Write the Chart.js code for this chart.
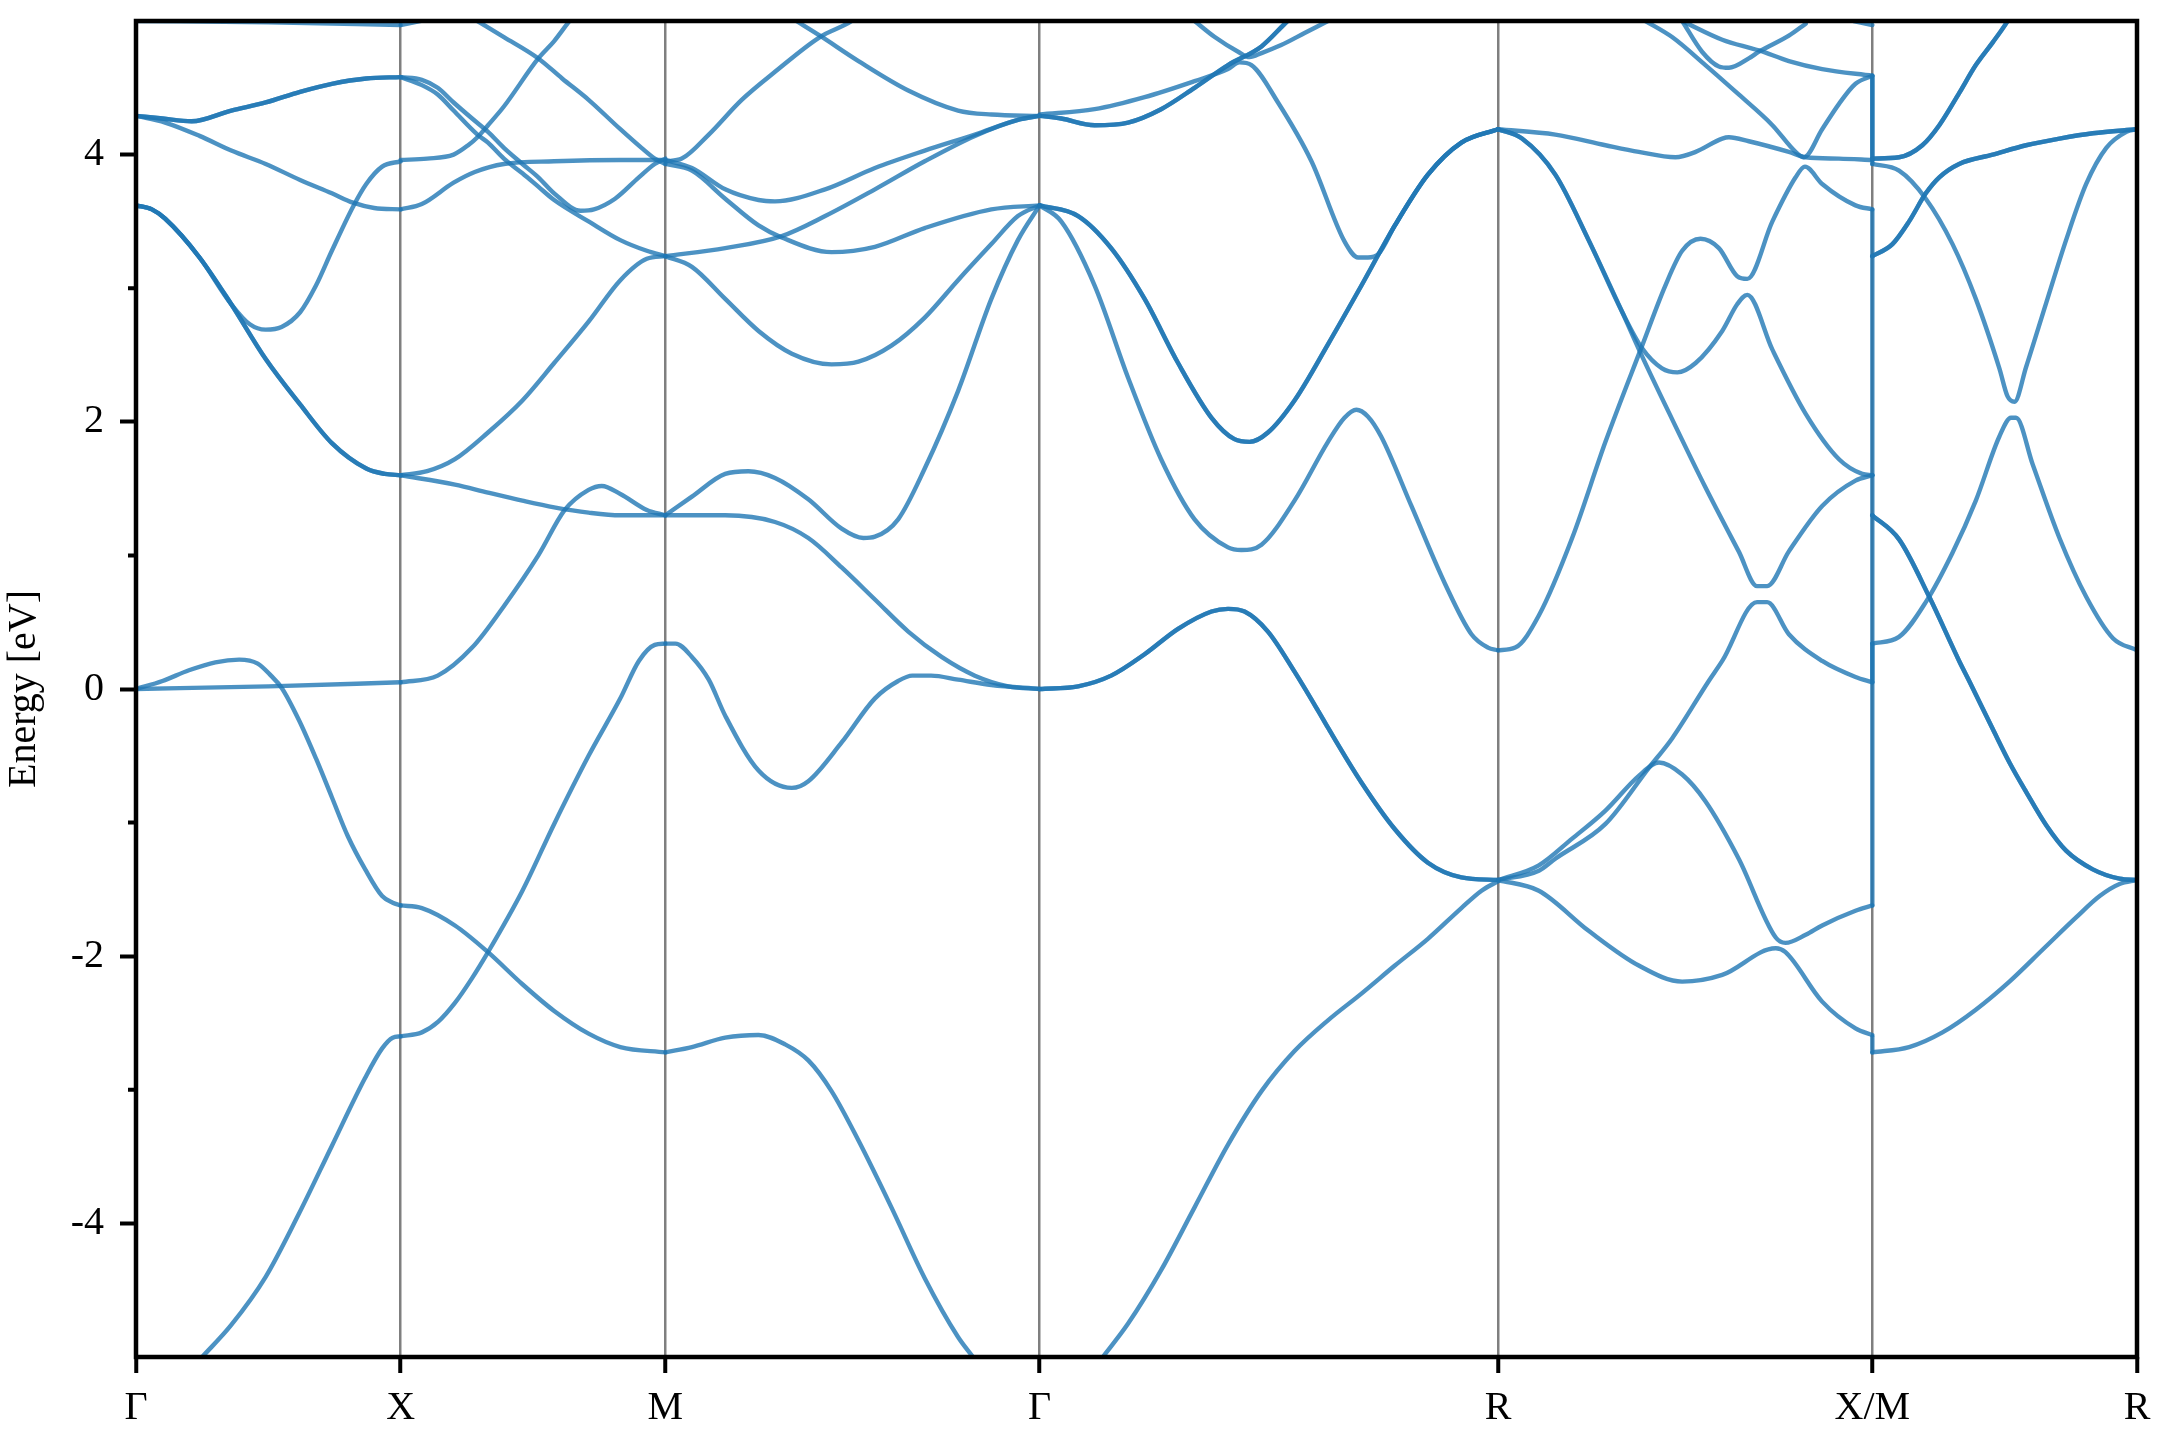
<!DOCTYPE html>
<html><head><meta charset="utf-8">
<script src="https://cdn.jsdelivr.net/npm/chart.js@4.4.1/dist/chart.umd.min.js"></script>
<style>html,body{margin:0;padding:0;background:#fff}canvas{display:block}</style>
</head><body>
<canvas id="c" width="2160" height="1440"></canvas>
<script>
// High-symmetry path (cubic lattice, k in units of 2π/a)
const kTicks = [0, 0.5, 1.0, 1.7071, 2.5731, 3.2802, 3.7802];
const kLabels = ['Γ', 'X', 'M', 'Γ', 'R', 'X/M', 'R'];
const yTicks = [-4, -2, 0, 2, 4];
const yMinor = [-3, -1, 1, 3];

// Band pieces: [fraction along segment, energy eV]
// Γ–X
const GX_top  = [[0,5.0],[0.5,4.99],[1,4.97]];
const GX_up   = [[0,4.29],[0.1,4.27],[0.21,4.25],[0.36,4.33],[0.49,4.39],[0.62,4.47],[0.74,4.53],[0.87,4.57],[1,4.58]];
const GX_dn   = [[0,4.29],[0.11,4.24],[0.24,4.14],[0.36,4.03],[0.49,3.93],[0.62,3.81],[0.74,3.71],[0.82,3.64],[0.9,3.60],[1,3.59]];
const GX_t2   = [[0,3.62],[0.06,3.59],[0.11,3.52],[0.24,3.23],[0.36,2.88],[0.49,2.47],[0.62,2.13],[0.74,1.84],[0.87,1.65],[0.94,1.61],[1,1.60]];
const GX_dip  = [[0,3.62],[0.06,3.59],[0.11,3.52],[0.24,3.23],[0.36,2.88],[0.43,2.73],[0.49,2.69],[0.55,2.71],[0.62,2.82],[0.68,3.02],[0.74,3.28],[0.82,3.61],[0.87,3.78],[0.93,3.91],[1,3.95]];
const GX_vb   = [[0,0],[0.1,0.06],[0.2,0.14],[0.3,0.20],[0.39,0.22],[0.46,0.19],[0.51,0.10],[0.55,0.01],[0.615,-0.23],[0.68,-0.52],[0.74,-0.81],[0.80,-1.10],[0.866,-1.35],[0.93,-1.55],[0.97,-1.60],[1,-1.62]];
const GX_flat = [[0,0],[0.5,0.02],[1,0.05]];
const GX_low  = [[0.25,-5.0],[0.36,-4.76],[0.49,-4.40],[0.615,-3.93],[0.74,-3.42],[0.866,-2.91],[0.93,-2.69],[0.97,-2.61],[1,-2.60]];
// X–M
const XM_top  = [[0,4.97],[0.1,5.01]];
const XM_fall = [[0.29,5.0],[0.39,4.88],[0.52,4.72],[0.61,4.57],[0.71,4.41],[0.83,4.19],[0.91,4.05],[0.96,3.97],[1,3.93]];
const XM_rise = [[0,3.96],[0.1,3.97],[0.2,4.0],[0.255,4.07],[0.29,4.13],[0.33,4.22],[0.39,4.36],[0.52,4.72],[0.58,4.85],[0.63,4.98],[0.65,5.03]];
const XM_loop = [[0,4.58],[0.08,4.56],[0.14,4.50],[0.2,4.39],[0.27,4.27],[0.33,4.17],[0.39,4.05],[0.46,3.93],[0.52,3.83],[0.58,3.71],[0.68,3.58],[0.73,3.59],[0.81,3.67],[0.9,3.83],[0.96,3.93],[1,3.97]];
const XM_m1   = [[0,4.58],[0.08,4.52],[0.14,4.45],[0.2,4.33],[0.29,4.15],[0.33,4.09],[0.39,3.97],[0.46,3.86],[0.52,3.76],[0.58,3.66],[0.71,3.50],[0.83,3.36],[0.93,3.28],[1,3.24]];
const XM_flat = [[0,3.59],[0.08,3.63],[0.2,3.79],[0.28,3.87],[0.39,3.93],[0.58,3.95],[0.83,3.96],[1,3.96]];
const XM_c1   = [[0,1.60],[0.1,1.63],[0.205,1.72],[0.33,1.92],[0.46,2.16],[0.58,2.44],[0.71,2.75],[0.83,3.06],[0.93,3.22],[1,3.24]];
const XM_c2   = [[0,1.60],[0.205,1.53],[0.33,1.47],[0.46,1.41],[0.58,1.36],[0.71,1.32],[0.83,1.30],[1,1.30]];
const XM_hump = [[0,0.05],[0.14,0.10],[0.27,0.31],[0.39,0.62],[0.52,1.0],[0.62,1.34],[0.71,1.49],[0.76,1.52],[0.83,1.46],[0.93,1.34],[1,1.30]];
const XM_v1   = [[0,-2.60],[0.08,-2.57],[0.142,-2.49],[0.205,-2.35],[0.268,-2.17],[0.33,-1.97],[0.46,-1.51],[0.58,-1.01],[0.71,-0.50],[0.83,-0.07],[0.9,0.21],[0.96,0.33],[1,0.34]];
const XM_v2   = [[0,-1.62],[0.08,-1.64],[0.205,-1.77],[0.33,-1.97],[0.46,-2.21],[0.58,-2.41],[0.71,-2.58],[0.83,-2.68],[1,-2.72]];
// M–Γ
const MG_in   = [[0.35,5.0],[0.413,4.89],[0.516,4.70],[0.649,4.48],[0.782,4.33],[0.871,4.30],[1,4.29]];
const MG_out  = [[0,3.95],[0.044,3.97],[0.116,4.15],[0.204,4.41],[0.293,4.62],[0.413,4.88],[0.498,5.0],[0.52,5.05]];
const MG_a    = [[0,3.96],[0.071,3.90],[0.16,3.74],[0.249,3.66],[0.293,3.65],[0.427,3.74],[0.56,3.90],[0.693,4.03],[0.827,4.15],[0.942,4.26],[1,4.29]];
const MG_b    = [[0,3.93],[0.071,3.88],[0.16,3.67],[0.249,3.47],[0.311,3.38],[0.444,3.27],[0.56,3.31],[0.693,3.45],[0.871,3.59],[1,3.62]];
const MG_c    = [[0,3.24],[0.16,3.30],[0.311,3.39],[0.427,3.54],[0.56,3.74],[0.693,3.95],[0.827,4.14],[0.942,4.26],[1,4.29]];
const MG_d    = [[0,3.24],[0.071,3.16],[0.16,2.92],[0.249,2.68],[0.338,2.51],[0.444,2.43],[0.516,2.45],[0.604,2.57],[0.693,2.78],[0.782,3.06],[0.871,3.33],[0.942,3.54],[1,3.62]];
const MG_e    = [[0,1.30],[0.071,1.44],[0.16,1.61],[0.222,1.63],[0.293,1.58],[0.382,1.42],[0.471,1.20],[0.529,1.13],[0.56,1.14],[0.622,1.27],[0.693,1.65],[0.782,2.23],[0.871,2.92],[0.942,3.36],[1,3.62]];
const MG_f    = [[0,1.30],[0.16,1.30],[0.293,1.25],[0.382,1.13],[0.471,0.91],[0.56,0.67],[0.649,0.43],[0.738,0.24],[0.827,0.10],[0.916,0.02],[1,0]];
const MG_g    = [[0,0.34],[0.027,0.34],[0.071,0.24],[0.116,0.07],[0.16,-0.2],[0.249,-0.61],[0.338,-0.74],[0.382,-0.69],[0.471,-0.40],[0.56,-0.07],[0.622,0.06],[0.66,0.10],[0.71,0.10],[0.782,0.07],[0.871,0.03],[1,0]];
const MG_h    = [[0,-2.72],[0.071,-2.68],[0.16,-2.61],[0.249,-2.59],[0.32,-2.66],[0.382,-2.78],[0.444,-3.01],[0.516,-3.38],[0.604,-3.88],[0.693,-4.41],[0.782,-4.85],[0.822,-5.0]];
// Γ–R
const GR_up2  = [[0,4.29],[0.047,4.27],[0.12,4.22],[0.193,4.24],[0.265,4.34],[0.338,4.50],[0.411,4.67],[0.484,4.81],[0.535,4.98],[0.55,5.03]];
const GR_kink = [[0,4.30],[0.12,4.34],[0.229,4.43],[0.338,4.55],[0.411,4.64],[0.436,4.69],[0.462,4.67],[0.52,4.39],[0.593,3.95],[0.665,3.35],[0.695,3.23],[0.716,3.23],[0.74,3.26],[0.775,3.47],[0.847,3.85],[0.92,4.09],[1,4.19]];
const GR_v    = [[0.338,5.0],[0.382,4.88],[0.433,4.77],[0.458,4.73],[0.484,4.76],[0.527,4.82],[0.578,4.91],[0.629,5.0]];
const GR_c2   = [[0,3.62],[0.084,3.54],[0.156,3.30],[0.229,2.92],[0.302,2.44],[0.375,2.03],[0.425,1.87],[0.458,1.85],[0.498,1.92],[0.556,2.16],[0.629,2.58],[0.702,3.02],[0.775,3.47],[0.847,3.85],[0.92,4.09],[1,4.19]];
const GR_d    = [[0,3.62],[0.047,3.50],[0.12,3.02],[0.193,2.33],[0.265,1.72],[0.338,1.27],[0.411,1.06],[0.44,1.04],[0.484,1.08],[0.556,1.41],[0.629,1.85],[0.665,2.03],[0.691,2.09],[0.716,2.04],[0.745,1.89],[0.811,1.37],[0.884,0.79],[0.942,0.41],[0.978,0.31],[1,0.29]];
const GR_v2   = [[0,0],[0.084,0.02],[0.156,0.10],[0.229,0.26],[0.302,0.45],[0.375,0.58],[0.411,0.60],[0.447,0.58],[0.498,0.43],[0.556,0.13],[0.607,-0.16],[0.629,-0.29],[0.702,-0.70],[0.775,-1.05],[0.847,-1.30],[0.92,-1.41],[1,-1.43]];
const GR_low  = [[0.138,-5.0],[0.193,-4.75],[0.265,-4.35],[0.338,-3.88],[0.411,-3.41],[0.484,-3.01],[0.556,-2.71],[0.629,-2.48],[0.702,-2.28],[0.775,-2.07],[0.847,-1.87],[0.92,-1.64],[0.964,-1.51],[1,-1.44]];
// R–X
const RX_a    = [[0,4.19],[0.153,4.15],[0.287,4.07],[0.376,4.02],[0.474,3.98],[0.528,4.02],[0.599,4.12],[0.617,4.13],[0.67,4.10],[0.777,4.02],[0.822,3.98],[0.911,3.97],[1,3.96]];
const RX_b    = [[0,4.19],[0.064,4.12],[0.153,3.85],[0.242,3.36],[0.332,2.82],[0.385,2.55],[0.438,2.40],[0.479,2.37],[0.528,2.44],[0.599,2.68],[0.639,2.88],[0.666,2.95],[0.733,2.54],[0.822,2.06],[0.911,1.72],[0.973,1.61],[1,1.60]];
const RX_c    = [[0,4.19],[0.064,4.12],[0.153,3.85],[0.242,3.36],[0.332,2.82],[0.385,2.49],[0.465,2.02],[0.554,1.51],[0.643,1.03],[0.692,0.77],[0.719,0.77],[0.777,1.03],[0.866,1.37],[0.955,1.56],[1,1.60]];
const RX_d    = [[0,0.29],[0.046,0.31],[0.109,0.55],[0.198,1.13],[0.287,1.85],[0.385,2.57],[0.447,3.02],[0.492,3.28],[0.541,3.37],[0.59,3.30],[0.639,3.09],[0.666,3.07],[0.733,3.50],[0.795,3.83],[0.82,3.91],[0.866,3.78],[0.955,3.62],[1,3.59]];
const RX_e    = [[0.394,5.0],[0.465,4.88],[0.554,4.67],[0.643,4.45],[0.733,4.22],[0.795,4.02],[0.817,3.98],[0.866,4.19],[0.911,4.38],[0.955,4.53],[1,4.59]];
const RX_f    = [[0.492,5.0],[0.545,4.77],[0.59,4.66],[0.617,4.65],[0.67,4.72],[0.697,4.77],[0.777,4.89],[0.822,4.98]];
const RX_g    = [[0.492,5.0],[0.599,4.86],[0.67,4.80],[0.697,4.78],[0.777,4.70],[0.866,4.64],[1,4.59]];
const RX_top  = [[0.95,5.0],[1,4.97]];
const RX_h    = [[0,-1.43],[0.109,-1.32],[0.198,-1.12],[0.287,-0.91],[0.376,-0.65],[0.43,-0.55],[0.492,-0.64],[0.554,-0.84],[0.643,-1.27],[0.742,-1.86],[0.768,-1.90],[0.822,-1.84],[0.866,-1.77],[0.955,-1.66],[1,-1.62]];
const RX_i    = [[0,-1.43],[0.109,-1.51],[0.242,-1.81],[0.376,-2.07],[0.492,-2.19],[0.599,-2.14],[0.742,-1.94],[0.768,-1.97],[0.866,-2.34],[0.955,-2.54],[1,-2.59]];
const RX_j    = [[0,-1.43],[0.109,-1.36],[0.153,-1.27],[0.287,-1.01],[0.403,-0.59],[0.465,-0.37],[0.563,0.06],[0.599,0.21],[0.692,0.65],[0.719,0.65],[0.777,0.41],[0.866,0.21],[0.955,0.09],[1,0.05]];
// M–R
const MR_a    = [[0,3.97],[0.101,3.98],[0.189,4.07],[0.253,4.22],[0.328,4.46],[0.391,4.67],[0.455,4.84],[0.505,4.98],[0.52,5.03]];
const MR_b    = [[0,3.24],[0.076,3.33],[0.139,3.50],[0.202,3.71],[0.253,3.83],[0.328,3.93],[0.455,4.00],[0.581,4.07],[0.707,4.12],[0.833,4.16],[1,4.19]];
const MR_c    = [[0,3.93],[0.101,3.88],[0.202,3.67],[0.303,3.33],[0.391,2.92],[0.48,2.40],[0.511,2.19],[0.537,2.15],[0.581,2.41],[0.657,2.89],[0.732,3.36],[0.808,3.78],[0.884,4.05],[0.96,4.17],[1,4.19]];
const MR_d    = [[0,0.34],[0.101,0.39],[0.202,0.65],[0.303,1.02],[0.391,1.41],[0.48,1.89],[0.524,2.03],[0.543,2.03],[0.606,1.68],[0.707,1.13],[0.808,0.69],[0.909,0.38],[1,0.29]];
const MR_e    = [[0,1.30],[0.101,1.12],[0.215,0.69],[0.328,0.21],[0.366,0.06],[0.455,-0.30],[0.518,-0.55],[0.581,-0.77],[0.657,-1.02],[0.732,-1.21],[0.833,-1.35],[0.934,-1.42],[1,-1.43]];
const MR_f    = [[0,-2.72],[0.139,-2.68],[0.265,-2.57],[0.391,-2.40],[0.518,-2.19],[0.644,-1.95],[0.77,-1.71],[0.859,-1.55],[0.934,-1.46],[1,-1.43]];
// band values joined across the X|M break: [E at X, E at M]
const XM_jump = [[-2.60,-2.72],[-1.62,0.34],[0.05,1.30],[1.60,1.30],[1.60,3.24],[3.59,3.24],[3.96,3.93],[4.58,3.96],[4.59,3.97]];

// [segment index, piece, degeneracy]
const pieces = [
  [0,GX_top,1],[0,GX_up,2],[0,GX_dn,1],[0,GX_t2,2],[0,GX_dip,1],[0,GX_vb,1],[0,GX_flat,1],[0,GX_low,1],
  [1,XM_top,1],[1,XM_fall,1],[1,XM_rise,1],[1,XM_loop,1],[1,XM_m1,1],[1,XM_flat,1],[1,XM_c1,1],[1,XM_c2,1],[1,XM_hump,1],[1,XM_v1,1],[1,XM_v2,1],
  [2,MG_in,1],[2,MG_out,1],[2,MG_a,1],[2,MG_b,1],[2,MG_c,1],[2,MG_d,1],[2,MG_e,1],[2,MG_f,1],[2,MG_g,1],[2,MG_h,1],
  [3,GR_up2,2],[3,GR_kink,1],[3,GR_v,1],[3,GR_c2,2],[3,GR_d,1],[3,GR_v2,2],[3,GR_low,1],
  [4,RX_a,1],[4,RX_b,1],[4,RX_c,1],[4,RX_d,1],[4,RX_e,1],[4,RX_f,1],[4,RX_g,1],[4,RX_top,1],[4,RX_h,1],[4,RX_i,1],[4,RX_j,1],
  [5,MR_a,2],[5,MR_b,2],[5,MR_c,1],[5,MR_d,1],[5,MR_e,2],[5,MR_f,1]
];

const lineColor = 'rgba(31,119,180,0.8)';
function toPts(segIdx, piece) {
  const a = kTicks[segIdx], b = kTicks[segIdx + 1];
  return piece.map(([t, e]) => ({x: a + t * (b - a), y: e}));
}
function mk(data) {
  return {data, borderColor: lineColor, borderWidth: 4.4, pointRadius: 0, fill: false, clip: 0,
          cubicInterpolationMode: 'monotone', borderJoinStyle: 'round', borderCapStyle: 'round'};
}
const datasets = [];
pieces.forEach(([s, p, n]) => { for (let i = 0; i < n; i++) datasets.push(mk(toPts(s, p))); });
XM_jump.forEach(([ex, em]) => datasets.push(mk([{x: kTicks[5], y: ex}, {x: kTicks[5], y: em}])));

const frame = {
  id: 'frame',
  beforeDraw(chart) {
    const c = chart.ctx; c.save(); c.fillStyle = '#fff'; c.fillRect(0, 0, chart.width, chart.height); c.restore();
  },
  afterDraw(chart) {
    const {ctx, chartArea: a, scales: {y}} = chart;
    ctx.save();
    ctx.strokeStyle = '#000';
    ctx.lineWidth = 4;
    ctx.beginPath();
    yMinor.forEach(v => { const p = y.getPixelForValue(v); ctx.moveTo(a.left - 8, p); ctx.lineTo(a.left, p); });
    ctx.stroke();
    ctx.lineWidth = 4.5;
    ctx.strokeRect(a.left, a.top, a.right - a.left, a.bottom - a.top);
    ctx.restore();
  }
};

const fam = '"Liberation Serif", "Times New Roman", Times, serif';
const font = {family: fam, size: 40};
new Chart(document.getElementById('c'), {
  type: 'line',
  data: {datasets},
  options: {
    responsive: false, animation: false, devicePixelRatio: 1,
    layout: {padding: {top: 21, right: 23, left: 0, bottom: 0}},
    plugins: {legend: {display: false}, tooltip: {enabled: false}},
    scales: {
      x: {
        type: 'linear', min: kTicks[0], max: kTicks[kTicks.length - 1],
        afterBuildTicks: s => { s.ticks = kTicks.map(v => ({value: v})); },
        afterFit: s => { s.height = 83; s.paddingLeft = 0; s.paddingRight = 0; },
        ticks: {callback: (v, i) => kLabels[i], autoSkip: false, maxRotation: 0, minRotation: 0, font, color: '#000', padding: 11},
        grid: {color: 'rgba(0,0,0,0.5)', lineWidth: 2.5, tickColor: '#000', tickWidth: 4, tickLength: 16},
        border: {display: false}
      },
      y: {
        type: 'linear', min: -5, max: 5,
        afterBuildTicks: s => { s.ticks = yTicks.map(v => ({value: v})); },
        afterFit: s => { s.width = 136; s.paddingTop = 0; s.paddingBottom = 0; },
        ticks: {font, color: '#000', padding: 16, callback: v => String(v)},
        grid: {drawOnChartArea: false, tickColor: '#000', tickWidth: 4, tickLength: 16},
        border: {display: false},
        title: {display: true, text: 'Energy [eV]', color: '#000',
                font: {family: fam, size: 40}, padding: {top: 0, bottom: 0}}
      }
    }
  },
  plugins: [frame]
});
</script>
</body></html>
